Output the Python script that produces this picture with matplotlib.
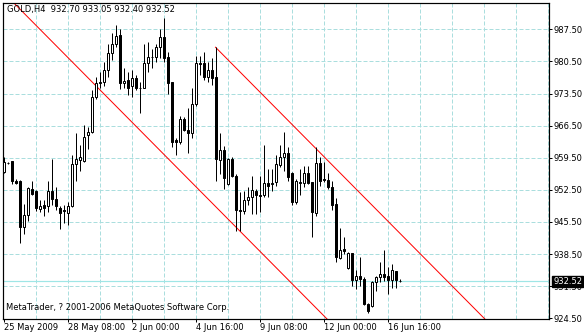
import matplotlib
matplotlib.use("Agg")
import matplotlib.pyplot as plt
import matplotlib.transforms as mtransforms
import numpy as np

# GOLD H4 bars (one row per bar)
opens = [956.4, 958.4, 958.7, 954.5, 954.5, 944.5, 947.0, 952.7, 952.3, 948.3,
         949.1, 948.9, 952.3, 950.5, 948.6, 948.0, 947.5, 948.9, 958.2, 959.1,
         958.8, 964.4, 965.1, 972.8, 975.8, 976.0, 978.6, 982.4, 984.4, 986.3,
         975.7, 976.4, 975.1, 976.8, 974.8, 974.8, 980.1, 981.5, 981.5, 983.6,
         985.8, 981.5, 976.0, 963.3, 962.9, 967.9, 965.6, 964.8, 971.3, 980.1,
         980.1, 977.0, 978.6, 977.0, 959.1, 961.1, 953.7, 959.3, 955.6, 948.1,
         947.8, 950.3, 951.0, 952.3, 951.4, 951.3, 954.0, 953.7, 954.2, 958.0,
         959.6, 960.5, 956.1, 949.8, 954.1, 954.0, 956.1, 954.2, 947.4, 958.3,
         954.8, 954.7, 953.1, 949.4, 937.6, 939.5, 935.4, 938.7, 932.8, 933.7,
         933.0, 927.6, 927.2, 932.4, 933.4, 934.1, 933.7, 932.8, 934.9, 932.70]
highs = [959.6, 958.65, 958.9, 954.9, 954.6, 949.4, 953.1, 954.5, 952.5, 950.2,
         950.2, 954.5, 959.3, 953.1, 948.9, 949.1, 949.8, 960.0, 964.8, 962.2,
         966.6, 966.2, 974.2, 977.2, 978.2, 980.4, 984.4, 986.6, 988.5, 987.5,
         979.0, 978.2, 978.6, 977.5, 976.0, 984.4, 984.8, 983.3, 984.4, 987.5,
         989.9, 982.6, 976.1, 963.7, 968.5, 968.4, 970.4, 974.8, 981.7, 981.7,
         982.6, 980.4, 981.2, 983.6, 964.8, 962.0, 959.4, 959.6, 956.0, 952.0,
         952.3, 953.1, 955.6, 952.7, 955.6, 962.2, 957.1, 957.1, 960.0, 962.2,
         965.1, 961.8, 956.4, 954.9, 957.0, 957.8, 957.8, 954.2, 961.8, 959.6,
         958.5, 956.1, 954.5, 950.8, 944.2, 942.3, 938.9, 938.8, 935.0, 937.8,
         933.4, 927.9, 932.7, 933.8, 936.7, 939.4, 935.7, 936.3, 934.9, 933.05]
lows = [956.1, 958.2, 953.8, 953.7, 941.0, 942.9, 945.6, 951.3, 947.8, 947.6,
        946.9, 947.6, 949.1, 948.0, 944.0, 945.2, 944.9, 948.7, 954.5, 956.7,
        958.5, 961.5, 964.9, 972.4, 974.6, 975.1, 977.2, 980.8, 983.7, 974.4,
        974.6, 973.1, 972.8, 974.2, 969.3, 974.6, 978.2, 979.0, 980.4, 981.2,
        980.4, 973.5, 961.8, 960.2, 962.6, 965.3, 960.5, 963.9, 970.7, 977.5,
        976.4, 976.0, 975.3, 954.5, 956.0, 952.7, 953.6, 955.3, 943.6, 943.6,
        947.2, 949.3, 947.2, 947.2, 947.6, 950.9, 950.9, 952.3, 953.4, 957.5,
        956.7, 954.5, 949.1, 949.4, 951.3, 953.1, 953.8, 942.3, 946.9, 953.4,
        954.2, 952.7, 948.2, 936.7, 937.4, 938.5, 935.2, 931.6, 930.8, 931.6,
        927.5, 925.7, 927.0, 930.5, 932.3, 932.7, 929.9, 931.1, 931.1, 932.40]
closes = [958.6, 958.45, 954.5, 954.0, 944.5, 947.0, 952.9, 951.6, 948.6, 948.9,
          948.6, 952.3, 950.4, 948.9, 947.5, 947.8, 948.9, 958.2, 959.3, 959.6,
          964.0, 965.1, 972.8, 975.8, 976.1, 978.7, 982.4, 984.3, 986.0, 975.7,
          976.2, 974.8, 976.8, 974.8, 974.7, 980.1, 981.5, 981.4, 983.6, 985.9,
          981.2, 975.8, 962.9, 962.9, 967.9, 965.6, 964.8, 971.3, 980.1, 979.9,
          977.0, 978.6, 976.8, 959.3, 961.1, 955.1, 959.3, 955.6, 948.0, 947.8,
          950.3, 951.0, 952.5, 951.3, 951.2, 954.0, 953.4, 953.9, 958.2, 959.6,
          960.5, 955.3, 949.8, 954.5, 954.3, 956.1, 954.0, 947.6, 958.3, 954.5,
          954.6, 953.1, 949.1, 937.8, 939.4, 939.2, 938.7, 932.8, 933.7, 933.0,
          927.6, 926.0, 932.5, 933.5, 934.1, 933.5, 932.8, 935.0, 932.8, 932.52]

symbol = "GOLD,H4"
price_ticks = [924.50, 931.50, 938.50, 945.50, 952.50, 959.50, 966.50, 973.50, 980.50, 987.50]
date_ticks = [0, 16, 32, 48, 64, 80, 96]
date_labels = ["25 May 2009", "28 May 08:00", "2 Jun 00:00", "4 Jun 16:00",
               "9 Jun 08:00", "12 Jun 00:00", "16 Jun 16:00"]
# channel: upper line from the high of bar 53, lower one through the low of bar 59
channel_slope = -0.88
upper_anchor = 53
lower_anchor = 59

o = np.array(opens)
h = np.array(highs)
l = np.array(lows)
c = np.array(closes)
x = np.arange(len(o))

PX = 0.72  # one pixel in points at dpi 100
grid_col = "#aadede"

fig = plt.figure(figsize=(5.84, 3.32), dpi=100)
ax = fig.add_axes([2.5 / 584, 1 - 318.5 / 332, 546 / 584, 316 / 332])
ax.set_xlim(-0.25, 136.25)
ax.set_ylim(924.45, 993.35)

# grid
for gx in np.arange(8, 137, 8):
    ax.axvline(gx, color=grid_col, lw=PX, ls=(0, (4, 2)), zorder=0)
for gy in price_ticks[1:]:
    ax.axhline(gy, color=grid_col, lw=PX, ls=(0, (4, 2)), zorder=0)

# bid line
last = closes[-1]
ax.axhline(last, color="#9fe6e6", lw=PX * 1.2, zorder=1)

# channel lines
xx = np.array([-10, 140])
ax.plot(xx, l[lower_anchor] + channel_slope * (xx - lower_anchor), color="red", lw=PX, zorder=2)
xu = np.array([upper_anchor, 140])
ax.plot(xu, h[upper_anchor] + channel_slope * (xu - upper_anchor), color="red", lw=PX, zorder=2)

# candles
up = c >= o
ax.vlines(x, l, h, color="black", lw=PX, zorder=3)
body_bot = np.minimum(o, c)
body_h = np.maximum(np.abs(c - o), 0.05)
ax.bar(x, body_h, bottom=body_bot, width=0.5,
       color=np.where(up, "white", "black"), edgecolor="black", linewidth=PX, zorder=4)

for s in ax.spines.values():
    s.set_linewidth(PX * 1.2)
    s.set_color("black")

ax.yaxis.tick_right()
ax.set_yticks(price_ticks)
ax.set_yticklabels(["%.2f" % v for v in price_ticks])
ax.set_xticks(date_ticks)
ax.set_xticklabels(date_labels)
for lbl in ax.get_xticklabels():
    lbl.set_horizontalalignment("left")
ax.tick_params(axis="both", labelsize=6, length=2.4, width=PX, color="black", pad=1.2)

# header and copyright
ax.text(4.5 / 546, 1 - 2.5 / 316,
        "%s  %.2f %.2f %.2f %.2f" % (symbol, opens[-1], highs[-1], lows[-1], closes[-1]),
        transform=ax.transAxes, ha="left", va="top", fontsize=6, color="black")
ax.text(3.5 / 546, 8 / 316, "MetaTrader, ? 2001-2006 MetaQuotes Software Corp.",
        transform=ax.transAxes, ha="left", va="baseline", fontsize=6, color="black")

# last price tag
trans = mtransforms.blended_transform_factory(ax.transAxes, ax.transData)
ax.text(1 + 4.5 / 546, last, "%.2f" % last, transform=trans, ha="left", va="center",
        fontsize=6, color="white", clip_on=False, zorder=10,
        bbox=dict(boxstyle="square,pad=0.15", facecolor="black", edgecolor="black"))

fig.savefig("out.png", dpi=100, facecolor="white")
